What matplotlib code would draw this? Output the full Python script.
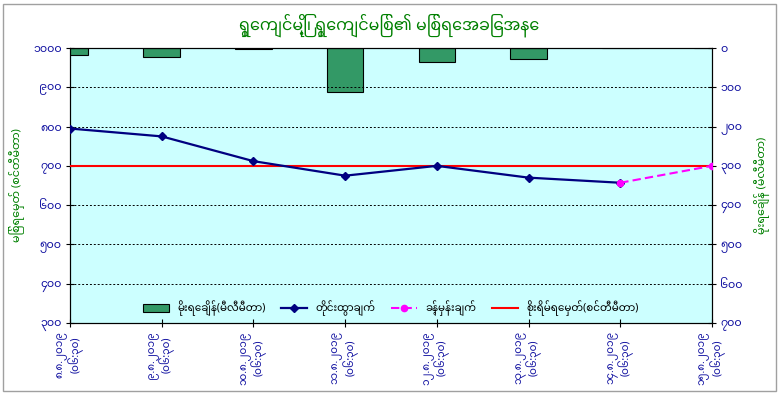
import numpy as np
import matplotlib
matplotlib.use("Agg")
import matplotlib.pyplot as plt

plt.rcParams['font.family'] = ['Noto Sans Myanmar', 'Padauk', 'DejaVu Sans']

title = "ရွှေကျင်မြို့၊ ရွှေကျင်မြစ်၏ မြစ်ရေအခြေအနေ"
left_label = "မြစ်ရေမှတ် (စင်တီမီတာ)"
right_label = "မိုးရေချိန် (မီလီမီတာ)"

dates = ["၈.၈.၂၀၁၉\n(၀၆:၃၀)", "၉.၈.၂၀၁၉\n(၀၆:၃၀)", "၁၀.၈.၂၀၁၉\n(၀၆:၃၀)",
         "၁၁.၈.၂၀၁၉\n(၀၆:၃၀)", "၁၂.၈.၂၀၁၉\n(၀၆:၃၀)", "၁၃.၈.၂၀၁၉\n(၀၆:၃၀)",
         "၁၄.၈.၂၀၁၉\n(၀၆:၃၀)", "၁၅.၈.၂၀၁၉\n(၀၆:၃၀)"]
rainfall = [18, 22, 2, 111, 36, 27, 0, 0]
observed = [795, 775, 712, 675, 700, 670, 657, np.nan]
forecast = [np.nan, np.nan, np.nan, np.nan, np.nan, np.nan, 657, 700]
danger = [700] * 8

left_ticks = [300, 400, 500, 600, 700, 800, 900, 1000]
left_ticklabels = ["၃၀၀", "၄၀၀", "၅၀၀", "၆၀၀", "၇၀၀", "၈၀၀", "၉၀၀", "၁၀၀၀"]
right_ticks = [0, 100, 200, 300, 400, 500, 600, 700]
right_ticklabels = ["၀", "၁၀၀", "၂၀၀", "၃၀၀", "၄၀၀", "၅၀၀", "၆၀၀", "၇၀၀"]

leg_rain = "မိုးရေချိန်(မီလီမီတာ)"
leg_obs = "တိုင်းထွာချက်"
leg_fc = "ခန့်မှန်းချက်"
leg_danger = "စိုးရိမ်ရေမှတ်(စင်တီမီတာ)"

tick_color = "#1010A0"
green = "#008000"

fig = plt.figure(figsize=(7.79, 3.95), dpi=100)
fig.patch.set_facecolor("white")
ax = fig.add_axes([70 / 779, 1 - 323 / 395, 642 / 779, 275 / 395])
x = np.arange(len(dates))

ax2 = ax.twinx()
ax.set_zorder(ax2.get_zorder() + 1)
ax.patch.set_visible(False)
ax2.patch.set_visible(True)
ax2.patch.set_facecolor("#CCFFFF")

bars = ax2.bar(x, rainfall, width=0.4, color="#339966", edgecolor="black", linewidth=0.8)
ax2.set_ylim(700, 0)
ax2.set_yticks(right_ticks)
ax2.set_yticklabels(right_ticklabels, color=tick_color, fontsize=8)
ax2.set_ylabel(right_label, color=green, fontsize=8, labelpad=8)

for v in [400, 500, 600, 800, 900]:
    ax.axhline(v, color="black", linestyle=(0, (2, 2)), linewidth=0.7, zorder=1)

l1, = ax.plot(x, observed, color="#000080", marker="D", markersize=4, linewidth=1.6, zorder=4)
l2, = ax.plot(x, forecast, color="#FF00FF", marker="o", markersize=4.5, linewidth=1.5,
              linestyle=(0, (4, 2)), zorder=4)
l3, = ax.plot(x, danger, color="#FF0000", linewidth=1.5, zorder=3)

ax.set_xlim(0, len(dates) - 1)
ax.set_ylim(300, 1000)
ax.set_yticks(left_ticks)
ax.set_yticklabels(left_ticklabels, color=tick_color, fontsize=8)
ax.set_xticks(x)
ax.set_xticklabels(dates, rotation=90, color=tick_color, fontsize=7.5, linespacing=1.0)
ax.set_ylabel(left_label, color=green, fontsize=8, labelpad=6)
ax.tick_params(direction="inout", length=6, width=0.8, pad=3)
ax2.tick_params(direction="inout", length=6, width=0.8, pad=3)
for a in (ax, ax2):
    for s in a.spines.values():
        s.set_linewidth(0.8)

fig.suptitle(title, color=green, fontsize=11.5, fontweight="bold", y=0.965)

ax.legend([bars, l1, l2, l3], [leg_rain, leg_obs, leg_fc, leg_danger], loc="lower center",
          ncol=4, frameon=False, fontsize=7.5, handlelength=2.5, columnspacing=1.5,
          bbox_to_anchor=(0.5, -0.01))

fig.patches.append(plt.Rectangle((0.004, 0.01), 0.992, 0.98, transform=fig.transFigure,
                                 fill=False, edgecolor="#A0A0A0", linewidth=1))

fig.savefig("out.png", dpi=100)
